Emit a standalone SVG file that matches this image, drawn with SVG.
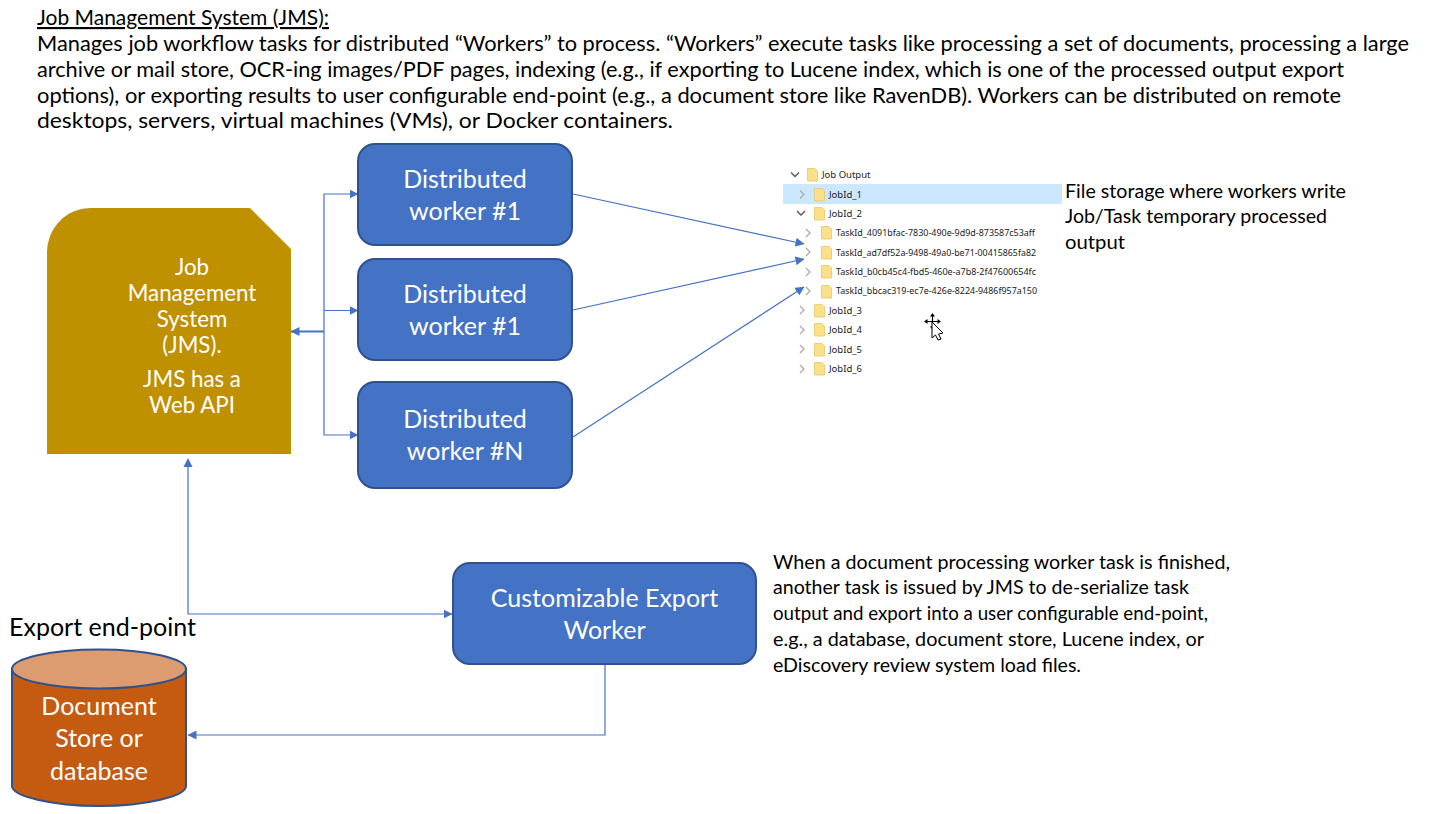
<svg xmlns="http://www.w3.org/2000/svg" width="1446" height="814" viewBox="0 0 1446 814">
<style>
text{font-family:Lato,"Liberation Sans",sans-serif;fill:#000}
.h{font-size:21.5px}
.b{font-size:19.5px}
.w{font-size:25px;fill:#fff;text-anchor:middle}
.j{font-size:22.300px;fill:#fff;text-anchor:middle}
.box{fill:#4472c4;stroke:#2f528f;stroke-width:2}
.c{fill:none;stroke:#4472c4;stroke-width:1.2}
.t{font-size:9.5px;fill:#222;font-family:"Noto Sans",sans-serif}
.chev{fill:none;stroke:#aaa;stroke-width:1.300}
.fold{fill:#fbe08c;stroke:#e8c860;stroke-width:.8}
</style>
<defs>
<marker id="a" markerWidth="9" markerHeight="9" refX="8.500" refY="4.500" orient="auto" markerUnits="userSpaceOnUse"><path d="M0 0L9 4.500L0 9Z" fill="#4472c4"/></marker>
<g id="f"><path class="fold" d="M0.500 0.500H8L10.500 3V13H0.500Z"/></g>
</defs>
<g id="title">
<text class="h" x="37" y="25" textLength="292" lengthAdjust="spacingAndGlyphs" text-decoration="underline">Job Management System (JMS):</text>
<text class="h" x="37" y="51" textLength="1372" lengthAdjust="spacingAndGlyphs">Manages job workflow tasks for distributed “Workers” to process. “Workers” execute tasks like processing a set of documents, processing a large</text>
<text class="h" x="37" y="77" textLength="1307" lengthAdjust="spacingAndGlyphs">archive or mail store, OCR-ing images/PDF pages, indexing (e.g., if exporting to Lucene index, which is one of the processed output export</text>
<text class="h" x="37" y="103" textLength="1304" lengthAdjust="spacingAndGlyphs">options), or exporting results to user configurable end-point (e.g., a document store like RavenDB). Workers can be distributed on remote</text>
<text class="h" x="37" y="128" textLength="636" lengthAdjust="spacingAndGlyphs">desktops, servers, virtual machines (VMs), or Docker containers.</text>
</g>
<g id="connectors">
<path class="c" d="M324 331V194H358" marker-end="url(#a)"/>
<path class="c" d="M324 310.500H358" marker-end="url(#a)"/>
<path class="c" d="M324 331V435H358" marker-end="url(#a)"/>
<path class="c" style="stroke-width:2" d="M324 331.500H291" marker-end="url(#a)"/>
<path class="c" d="M573 194L804 244" marker-end="url(#a)"/>
<path class="c" d="M573 310L804 259" marker-end="url(#a)"/>
<path class="c" d="M573 437L804 287" marker-end="url(#a)"/>
<path class="c" d="M188 460V614H452" marker-end="url(#a)"/>
<path d="M188 458L183.500 467H192.500Z" fill="#4472c4"/>
<path class="c" d="M605 664V735H188" marker-end="url(#a)"/>
</g>
<g id="jms">
<path d="M91 208H250L291 249V454H47V252A44 44 0 0 1 91 208Z" fill="#bf9000"/>
<text class="j" x="192" y="275">Job</text>
<text class="j" x="192" y="301">Management</text>
<text class="j" x="192" y="327">System</text>
<text class="j" x="192" y="353">(JMS).</text>
<text class="j" x="192" y="387">JMS has a</text>
<text class="j" x="192" y="413">Web API</text>
</g>
<g id="worker1">
<rect class="box" x="358" y="144" width="214" height="101" rx="17"/>
<text class="w" x="465" y="188">Distributed</text>
<text class="w" x="465" y="220">worker #1</text>
</g>
<g id="worker2">
<rect class="box" x="358" y="259" width="214" height="101" rx="17"/>
<text class="w" x="465" y="303">Distributed</text>
<text class="w" x="465" y="335">worker #1</text>
</g>
<g id="workerN">
<rect class="box" x="358" y="382" width="214" height="106" rx="17"/>
<text class="w" x="465" y="428">Distributed</text>
<text class="w" x="465" y="460">worker #N</text>
</g>
<g id="export-worker">
<rect class="box" x="453" y="563" width="303" height="101" rx="17"/>
<text class="w" x="604.500" y="607">Customizable Export</text>
<text class="w" x="604.500" y="639">Worker</text>
</g>
<g id="export-label">
<text x="9" y="636" font-size="25" textLength="187" lengthAdjust="spacingAndGlyphs">Export end-point</text>
</g>
<g id="database">
<path d="M12 669V786C12 796 51 806 99 806S186 796 186 786V669Z" fill="#c55a11" stroke="#2f528f" stroke-width="2"/>
<ellipse cx="99" cy="669" rx="87" ry="19.500" fill="#dd9b70" stroke="#2f528f" stroke-width="2"/>
<text class="w" x="99" y="715">Document</text>
<text class="w" x="99" y="747">Store or</text>
<text class="w" x="99" y="780">database</text>
</g>
<g id="file-tree">
<rect x="783" y="184" width="279" height="20" fill="#cce8ff"/>
<path class="chev" style="stroke:#555" d="M791 172.500L795 176.500L799 172.500"/>
<use href="#f" x="807" y="168"/>
<text class="t" x="822" y="178">Job Output</text>
<path class="chev" d="M800 190.500L804 194.500L800 198.500"/><use href="#f" x="814" y="188"/><text class="t" x="829" y="198">JobId_1</text>
<path class="chev" style="stroke:#555" d="M797 211L801 215L805 211"/><use href="#f" x="814" y="207"/><text class="t" x="829" y="217">JobId_2</text>
<path class="chev" d="M806 229L810 233L806 237"/><use href="#f" x="821" y="226"/><text class="t" x="836" y="236" textLength="199" lengthAdjust="spacingAndGlyphs">TaskId_4091bfac-7830-490e-9d9d-873587c53aff</text>
<path class="chev" d="M806 248L810 252L806 256"/><use href="#f" x="821" y="246"/><text class="t" x="836" y="256" textLength="200" lengthAdjust="spacingAndGlyphs">TaskId_ad7df52a-9498-49a0-be71-00415865fa82</text>
<path class="chev" d="M806 268L810 272L806 276"/><use href="#f" x="821" y="265"/><text class="t" x="836" y="275" textLength="200" lengthAdjust="spacingAndGlyphs">TaskId_b0cb45c4-fbd5-460e-a7b8-2f47600654fc</text>
<path class="chev" d="M806 287L810 291L806 295"/><use href="#f" x="821" y="285"/><text class="t" x="836" y="294" textLength="201" lengthAdjust="spacingAndGlyphs">TaskId_bbcac319-ec7e-426e-8224-9486f957a150</text>
<path class="chev" d="M800 306L804 310L800 314"/><use href="#f" x="814" y="304"/><text class="t" x="829" y="314">JobId_3</text>
<path class="chev" d="M800 326L804 330L800 334"/><use href="#f" x="814" y="323"/><text class="t" x="829" y="333">JobId_4</text>
<path class="chev" d="M800 345L804 349L800 353"/><use href="#f" x="814" y="343"/><text class="t" x="829" y="353">JobId_5</text>
<path class="chev" d="M800 365L804 369L800 373"/><use href="#f" x="814" y="362"/><text class="t" x="829" y="372">JobId_6</text>
<path d="M932.500 315V327M926 321.500H939" stroke="#000" stroke-width="1.200"/>
<path d="M932.500 313L930 316.500H935ZM932.500 330L930 326.500H935ZM924 321.500L927.500 319V324ZM941 321.500L937.500 319V324Z" fill="#000"/>
<path d="M932 322V338L935.500 335L938 340L941 339L938.500 334L943 333Z" fill="#fff" stroke="#000" stroke-width="1"/>
</g>
<g id="file-note">
<text class="b" x="1065" y="198" textLength="281" lengthAdjust="spacingAndGlyphs">File storage where workers write</text>
<text class="b" x="1065" y="223" textLength="262" lengthAdjust="spacingAndGlyphs">Job/Task temporary processed</text>
<text class="b" x="1065" y="249" textLength="60" lengthAdjust="spacingAndGlyphs">output</text>
</g>
<g id="export-note">
<text class="b" x="773" y="569" textLength="457" lengthAdjust="spacingAndGlyphs">When a document processing worker task is finished,</text>
<text class="b" x="773" y="594" textLength="416" lengthAdjust="spacingAndGlyphs">another task is issued by JMS to de-serialize task</text>
<text class="b" x="773" y="620" textLength="435" lengthAdjust="spacingAndGlyphs">output and export into a user configurable end-point,</text>
<text class="b" x="773" y="646" textLength="431" lengthAdjust="spacingAndGlyphs">e.g., a database, document store, Lucene index, or</text>
<text class="b" x="773" y="672" textLength="308" lengthAdjust="spacingAndGlyphs">eDiscovery review system load files.</text>
</g>
</svg>
